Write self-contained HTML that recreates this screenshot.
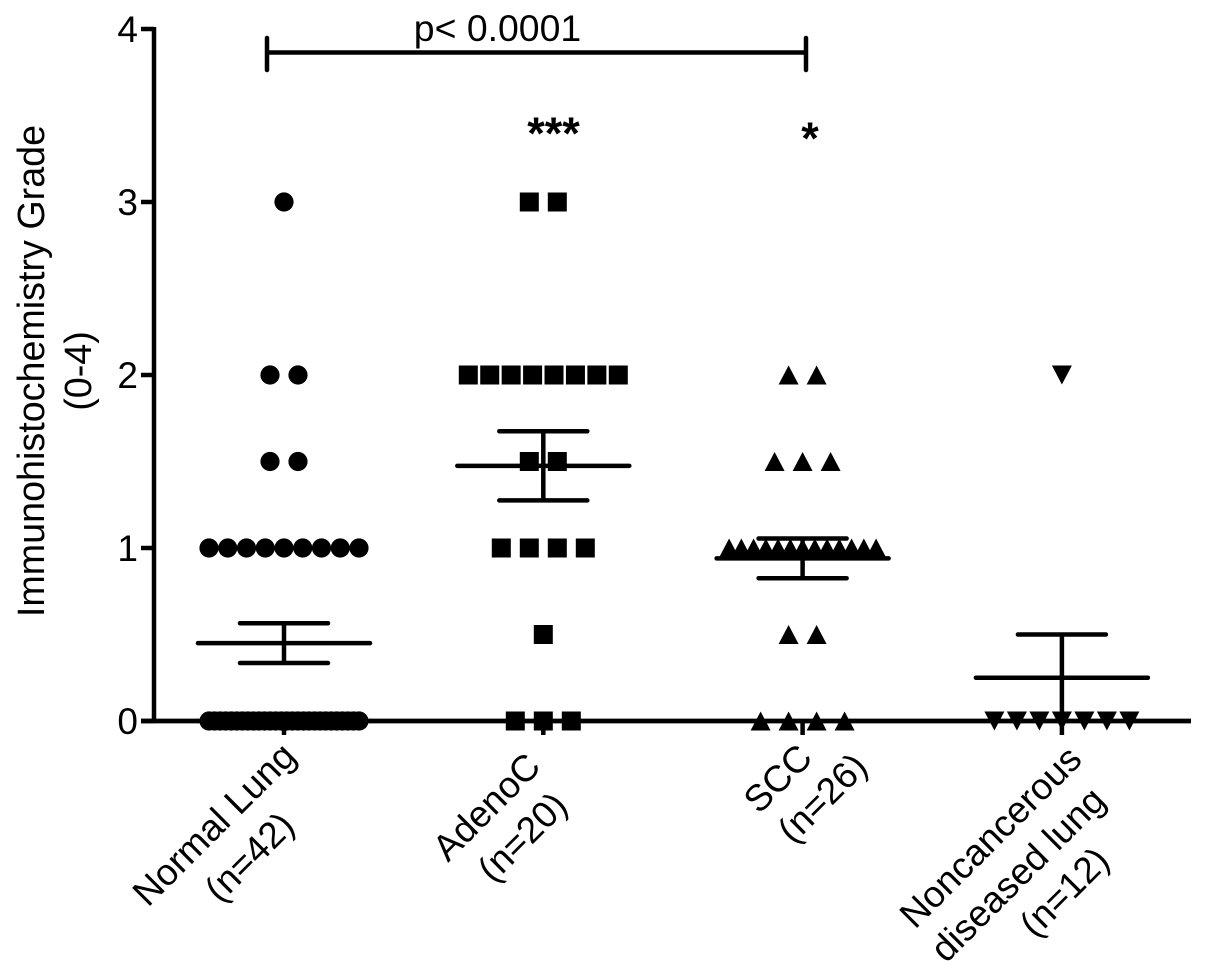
<!DOCTYPE html>
<html lang="en">
<head>
<meta charset="utf-8">
<title>Immunohistochemistry Grade by tissue group</title>
<style>
html,body{margin:0;padding:0;background:#fff;}
svg{display:block;}
text{font-family:"Liberation Sans",Arial,sans-serif;fill:#000;}
</style>
</head>
<body>
<svg id="chart" xmlns="http://www.w3.org/2000/svg" width="1205" height="974" viewBox="0 0 1205 974">
  <rect x="0" y="0" width="1205" height="974" fill="#fff"/>
  <g id="marks"></g>
  <g id="axes"></g>
  <g id="stats"></g>
  <g transform="translate(44,371) rotate(-90)">
    <text x="0" y="0" text-anchor="middle" font-size="37.7">Immunohistochemistry Grade</text>
    <text x="0" y="47" text-anchor="middle" font-size="37.7">(0-4)</text>
  </g>
  <g>
    <path d="M267 38V70M267 52.500H806M806 38V70" fill="none" stroke="#000" stroke-width="4.500" stroke-linecap="round"/>
    <text x="497.500" y="41" text-anchor="middle" font-size="37.400">p&lt; 0.0001</text>
    <text x="553.500" y="149" text-anchor="middle" font-size="45" font-weight="bold">***</text>
    <text x="810" y="154" text-anchor="middle" font-size="45" font-weight="bold">*</text>
  </g>
  <g id="xlabels"></g>
</svg>
<script>
// Chart data
const categories = ["Normal Lung", "AdenoC", "SCC", "Noncancerous lung"];
const yTicks = [0, 1, 2, 3, 4];
const normalLung = [3, 2, 2, 1.5, 1.5, 1, 1, 1, 1, 1, 1, 1, 1, 1,
  0, 0, 0, 0, 0, 0, 0, 0, 0, 0, 0, 0, 0, 0, 0, 0, 0, 0, 0, 0, 0, 0, 0, 0, 0, 0, 0, 0];
const adenoC = [3, 3, 2, 2, 2, 2, 2, 2, 2, 2, 1.5, 1.5, 1, 1, 1, 1, 0.5, 0, 0, 0];
const scc = [2, 2, 1.5, 1.5, 1.5, 1, 1, 1, 1, 1, 1, 1, 1, 1, 1, 1, 1, 1, 0.5, 0.5, 0, 0, 0, 0];
const noncancerous = [2, 0, 0, 0, 0, 0, 0, 0];
const means = [0.45, 1.475, 0.94, 0.25];
const errorUpper = [0.565, 1.675, 1.055, 0.5];
const errorLower = [0.335, 1.275, 0.825, 0];

const NS = "http://www.w3.org/2000/svg";
const marksG = document.getElementById("marks");
const axesG = document.getElementById("axes");
const statsG = document.getElementById("stats");
const labelsG = document.getElementById("xlabels");

// Axis functions
function yScale(v) { return 721 - v * 173; }
function xScale(i) { return 284 + i * 259.3; }

const groups = [normalLung, adenoC, scc, noncancerous];
const shapes = ["circle", "square", "up", "down"];
const rowSpans = [150, 150, 147, 135];
const maxStep = 28;

function markEl(shape, x, y) {
  let el;
  if (shape === "circle") {
    el = document.createElementNS(NS, "circle");
    el.setAttribute("cx", x);
    el.setAttribute("cy", y);
    el.setAttribute("r", 9.6);
  } else if (shape === "square") {
    el = document.createElementNS(NS, "rect");
    el.setAttribute("x", x - 9.5);
    el.setAttribute("y", y - 9.5);
    el.setAttribute("width", 19);
    el.setAttribute("height", 19);
  } else {
    const d = shape === "up" ? 1 : -1;
    el = document.createElementNS(NS, "polygon");
    el.setAttribute("points",
      (x - 10) + "," + (y + d * 9.5) + " " + (x + 10) + "," + (y + d * 9.5) + " " + x + "," + (y - d * 9.5));
  }
  el.setAttribute("fill", "#000");
  return el;
}

groups.forEach(function (vals, gi) {
  const rows = new Map();
  vals.forEach(function (v) { rows.set(v, (rows.get(v) || 0) + 1); });
  rows.forEach(function (count, v) {
    const step = count > 1 ? Math.min(maxStep, rowSpans[gi] / (count - 1)) : 0;
    for (let k = 0; k < count; k++) {
      const x = xScale(gi) + (k - (count - 1) / 2) * step;
      const el = markEl(shapes[gi], x, yScale(v));
      
      
      marksG.appendChild(el);
    }
  });
});

function addLine(parent, name, x1, y1, x2, y2, w, cap) {
  const l = document.createElementNS(NS, "line");
  l.setAttribute("x1", x1);
  l.setAttribute("y1", y1);
  l.setAttribute("x2", x2);
  l.setAttribute("y2", y2);
  l.setAttribute("stroke", "#000");
  l.setAttribute("stroke-width", w);
  l.setAttribute("stroke-linecap", cap || "butt");
  
  
  parent.appendChild(l);
}

// Axes
addLine(axesG, "y-axis-line", 154, yScale(4) - 2, 154, yScale(0) + 2, 4.5);
addLine(axesG, "x-axis-line", 141, yScale(0), 1191, yScale(0), 4.8);
yTicks.forEach(function (t) {
  addLine(axesG, "y-axis-tick", 141, yScale(t), 154, yScale(t), 4.5);
  const txt = document.createElementNS(NS, "text");
  txt.setAttribute("x", 138);
  txt.setAttribute("y", yScale(t) + 13);
  txt.setAttribute("text-anchor", "end");
  txt.setAttribute("font-size", 37);
  
  
  txt.textContent = String(t);
  axesG.appendChild(txt);
});
categories.forEach(function (c, i) {
  addLine(axesG, "x-axis-tick", xScale(i), yScale(0), xScale(i), yScale(0) + 14, 4.5);
});

// Mean and error bars
means.forEach(function (m, i) {
  const x = xScale(i);
  addLine(statsG, "mean-line", x - 86, yScale(m), x + 86, yScale(m), 4.5, "round");
  addLine(statsG, "error-bar-stem", x, yScale(errorUpper[i]), x, yScale(errorLower[i]), 4.5);
  addLine(statsG, "error-bar-upper-cap", x - 44, yScale(errorUpper[i]), x + 44, yScale(errorUpper[i]), 4.5, "round");
  if (errorLower[i] > 0) {
    addLine(statsG, "error-bar-lower-cap", x - 44, yScale(errorLower[i]), x + 44, yScale(errorLower[i]), 4.5, "round");
  }
});

// Rotated category labels
const xLabelLines = [
  ["Normal Lung", "(n=42)"],
  ["AdenoC", "(n=20)"],
  ["SCC", "(n=26)"],
  ["Noncancerous", "diseased lung", "(n=12)"]
];
const xLabelAnchors = [
  [[148, 908], [220, 904]],
  [[448, 863], [493, 884]],
  [[759, 815], [793, 845]],
  [[915, 930], [946, 964], [1035, 939]]
];
xLabelLines.forEach(function (lines, i) {
  lines.forEach(function (line, k) {
    const t = document.createElementNS(NS, "text");
    const a = xLabelAnchors[i][k];
    t.setAttribute("transform", "translate(" + a[0] + "," + a[1] + ") rotate(-45)");
    t.setAttribute("font-size", 37);
    
    
    t.textContent = line;
    labelsG.appendChild(t);
  });
});
</script>
</body>
</html>
